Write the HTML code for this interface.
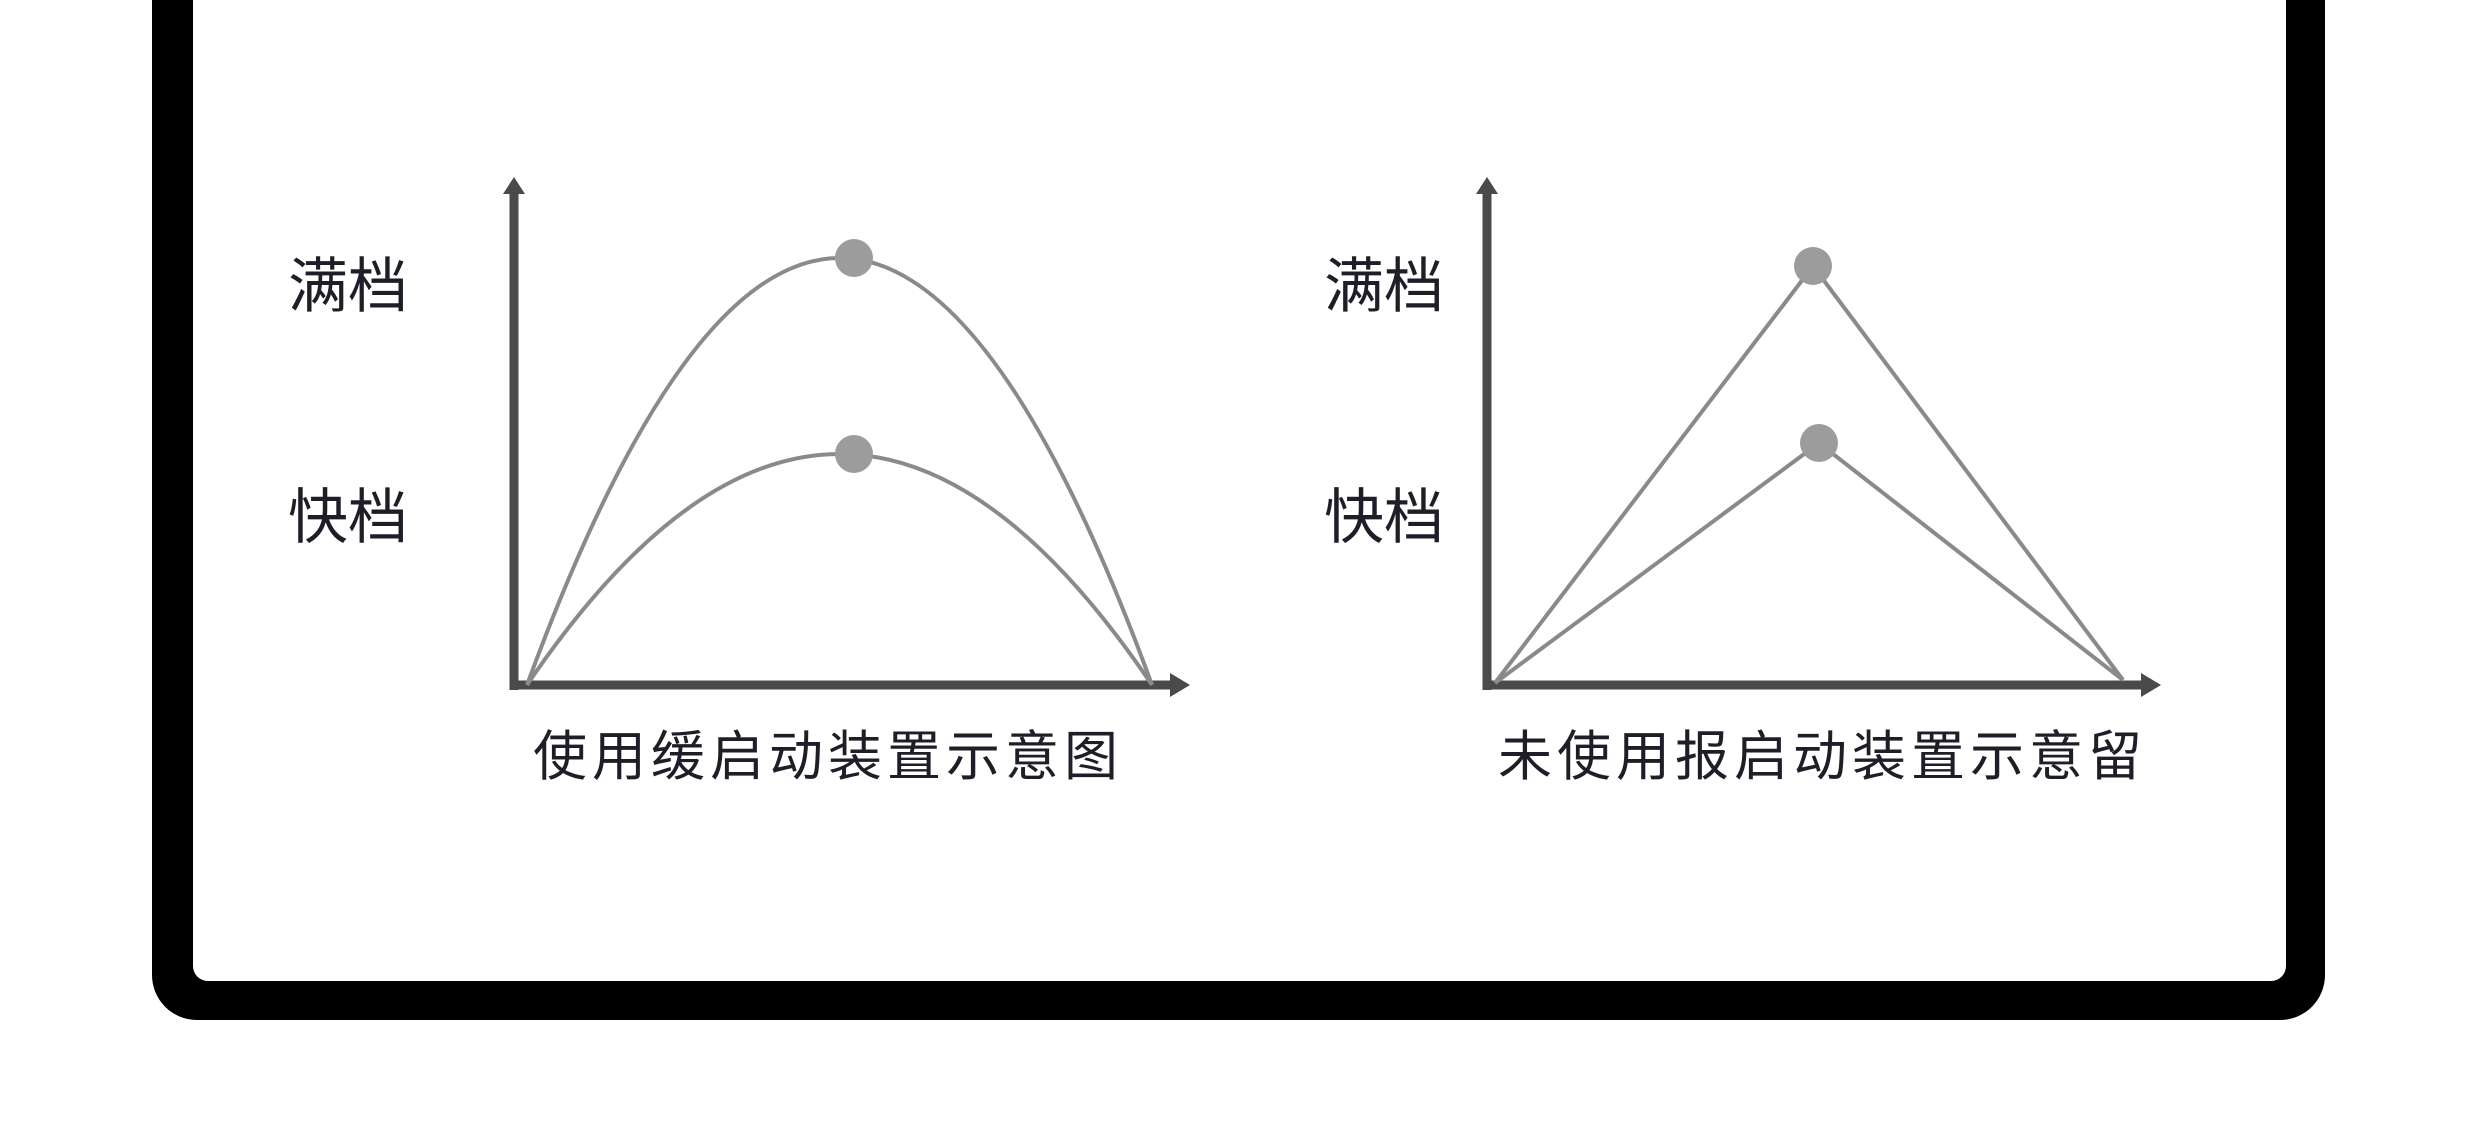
<!DOCTYPE html>
<html><head><meta charset="utf-8"><style>
html,body{margin:0;padding:0;background:#fff;}
svg{display:block;}
text{font-family:"Liberation Sans","Noto Sans CJK SC",sans-serif;fill:#1e1e28;}
</style></head><body>
<svg width="2480" height="1124" viewBox="0 0 2480 1124" xmlns="http://www.w3.org/2000/svg">
<rect x="0" y="0" width="2480" height="1124" fill="#fff"/>
<path d="M152,-10 V975 A45,45 0 0 0 197,1020 H2280 A45,45 0 0 0 2325,975 V-10 Z" fill="#000"/>
<path d="M193,-10 V966 A15,15 0 0 0 208,981 H2271 A15,15 0 0 0 2286,966 V-10 Z" fill="#fff"/>

<!-- chart 1 -->
<g stroke="#4a4a4a" stroke-width="9" fill="none">
<line x1="514" y1="690" x2="514" y2="190"/>
<line x1="510" y1="685" x2="1175" y2="685"/>
</g>
<polygon points="503,194 514,177 525,194" fill="#4a4a4a"/>
<polygon points="1170,673 1190,685 1170,697" fill="#4a4a4a"/>
<g stroke="#8a8a8a" stroke-width="4" fill="none">
<path d="M527,685 Q840,-169 1152,685"/>
<path d="M527,685 Q840,223 1152,685"/>
</g>
<circle cx="854" cy="258" r="19" fill="#9c9c9c"/>
<circle cx="854" cy="454" r="19" fill="#9c9c9c"/>
<text x="288" y="307" font-size="60">满档</text>
<text x="288" y="538" font-size="60">快档</text>
<text x="533" y="775" font-size="54" letter-spacing="5">使用缓启动装置示意图</text>

<!-- chart 2 -->
<g stroke="#4a4a4a" stroke-width="9" fill="none">
<line x1="1487" y1="690" x2="1487" y2="190"/>
<line x1="1483" y1="685" x2="2145" y2="685"/>
</g>
<polygon points="1476,194 1487,177 1498,194" fill="#4a4a4a"/>
<polygon points="2141,673 2161,685 2141,697" fill="#4a4a4a"/>
<g stroke="#8a8a8a" stroke-width="4" fill="none">
<polyline points="1495,683 1813,266 2123,680"/>
<polyline points="1495,683 1819,443 2123,680"/>
</g>
<circle cx="1813" cy="266" r="19" fill="#9c9c9c"/>
<circle cx="1819" cy="443" r="19" fill="#9c9c9c"/>
<text x="1324" y="307" font-size="60">满档</text>
<text x="1324" y="538" font-size="60">快档</text>
<text x="1498" y="775" font-size="54" letter-spacing="5">未使用报启动装置示意留</text>
</svg>
</body></html>
